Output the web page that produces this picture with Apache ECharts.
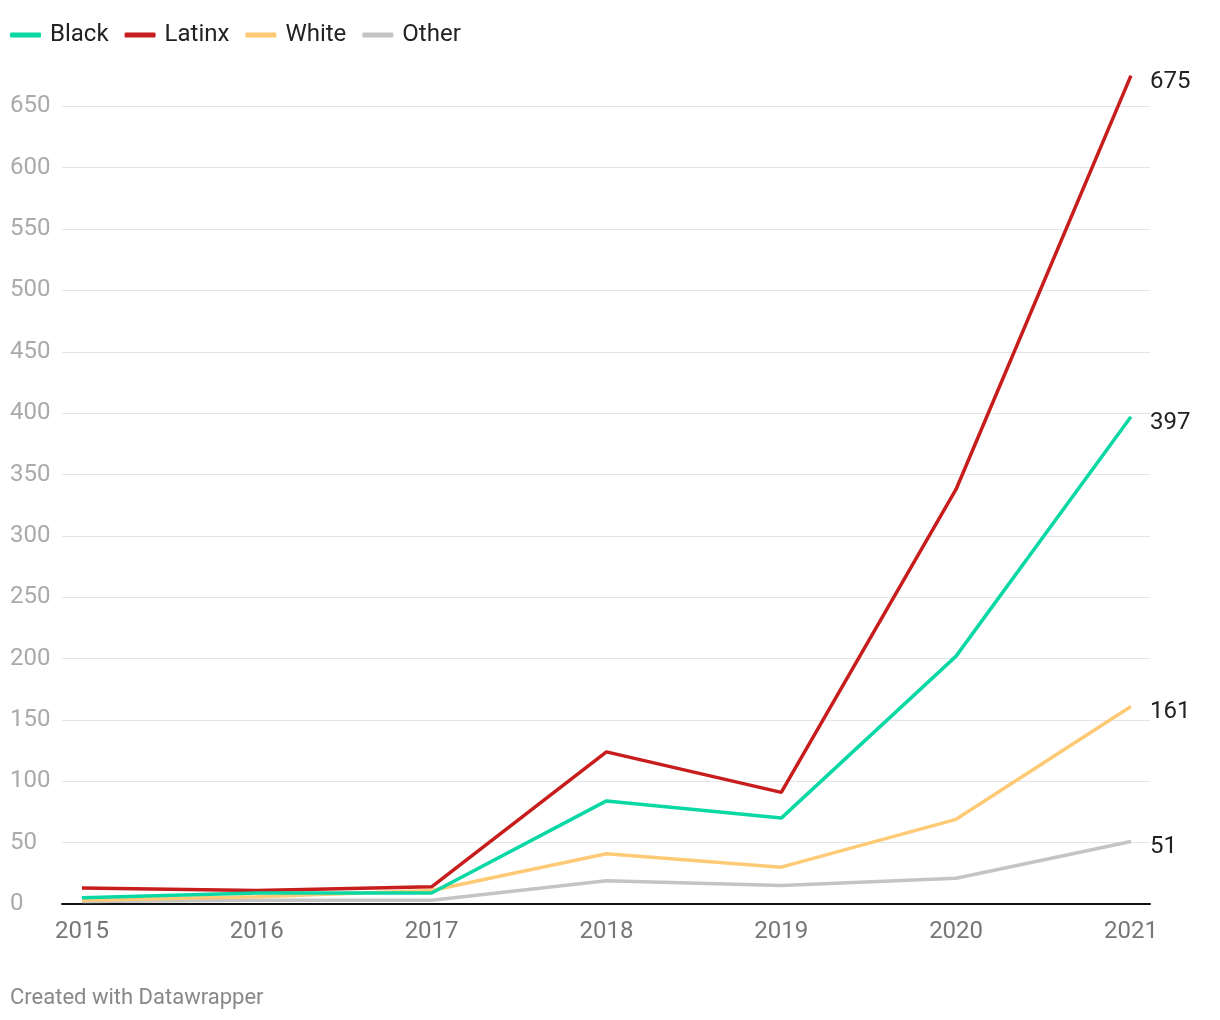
<!DOCTYPE html>
<html>
<head>
<meta charset="utf-8">
<script src="https://cdn.jsdelivr.net/npm/echarts@6/dist/echarts.min.js"></script>
<style>
html,body{margin:0;padding:0;background:#fff;}
#chart{width:1220px;height:1020px;}
</style>
</head>
<body>
<div id="chart"></div>
<script>
const years = [2015, 2016, 2017, 2018, 2019, 2020, 2021];
const black = [5, 9, 9, 84, 70, 202, 397];
const latinx = [13, 11, 14, 124, 91, 338, 675];
const white = [3, 6, 11, 41, 30, 69, 161];
const other = [2, 3, 3, 19, 15, 21, 51];
const seriesNames = ['Black', 'Latinx', 'White', 'Other'];
const seriesData = [black, latinx, white, other];
const colors = ['#0ad8a4', '#c71e1d', '#ffca76', '#c4c4c4'];

const chart = echarts.init(document.getElementById('chart'));
const font = 'Roboto, "Noto Sans", sans-serif';

chart.setOption({
  animation: false,
  textStyle: { fontFamily: font },
  legend: {
    left: 5, top: 18,
    icon: 'roundRect',
    itemWidth: 31, itemHeight: 5,
    itemGap: 16,
    textStyle: { fontSize: 24, color: '#222', fontFamily: font, padding: [0, 0, 0, 4] },
    data: seriesNames
  },
  graphic: [{
    type: 'text',
    left: 10, top: 987,
    style: { text: 'Created with Datawrapper', fill: '#888', fontSize: 22, fontFamily: font }
  }],
  grid: { left: 62, right: 70, top: 45, bottom: 116, containLabel: false },
  xAxis: {
    type: 'value',
    min: 2014.886, max: 2021.109,
    axisLine: { show: true, lineStyle: { color: '#111', width: 2 } },
    axisTick: { show: false },
    splitLine: { show: false },
    axisLabel: {
      customValues: years,
      color: '#777', fontSize: 24, margin: 16, fontFamily: font,
      formatter: v => String(Math.round(v))
    }
  },
  yAxis: {
    type: 'value',
    min: 0, max: 700, interval: 50,
    axisLine: { show: false },
    axisTick: { show: false },
    axisLabel: {
      color: '#aaa', fontSize: 24, align: 'left', margin: 52, fontFamily: font,
      showMaxLabel: false, verticalAlign: 'middle', padding: [6, 0, 0, 0]
    },
    splitLine: { show: true, showMaxLine: false, lineStyle: { color: '#e5e5e5', width: 1 } }
  },
  series: seriesNames.map((name, i) => ({
    name: name,
    type: 'line',
    data: years.map((y, j) => [y, seriesData[i][j]]),
    showSymbol: false,
    symbol: 'none',
    z: 10 - i,
    lineStyle: { color: colors[i], width: 3.5 },
    itemStyle: { color: colors[i] },
    endLabel: {
      show: true,
      distance: 19,
      offset: [0, 6],
      color: '#222',
      fontSize: 24,
      fontFamily: font,
      formatter: p => String(p.value[1])
    },
    emphasis: { disabled: true }
  }))
});
</script>
</body>
</html>
